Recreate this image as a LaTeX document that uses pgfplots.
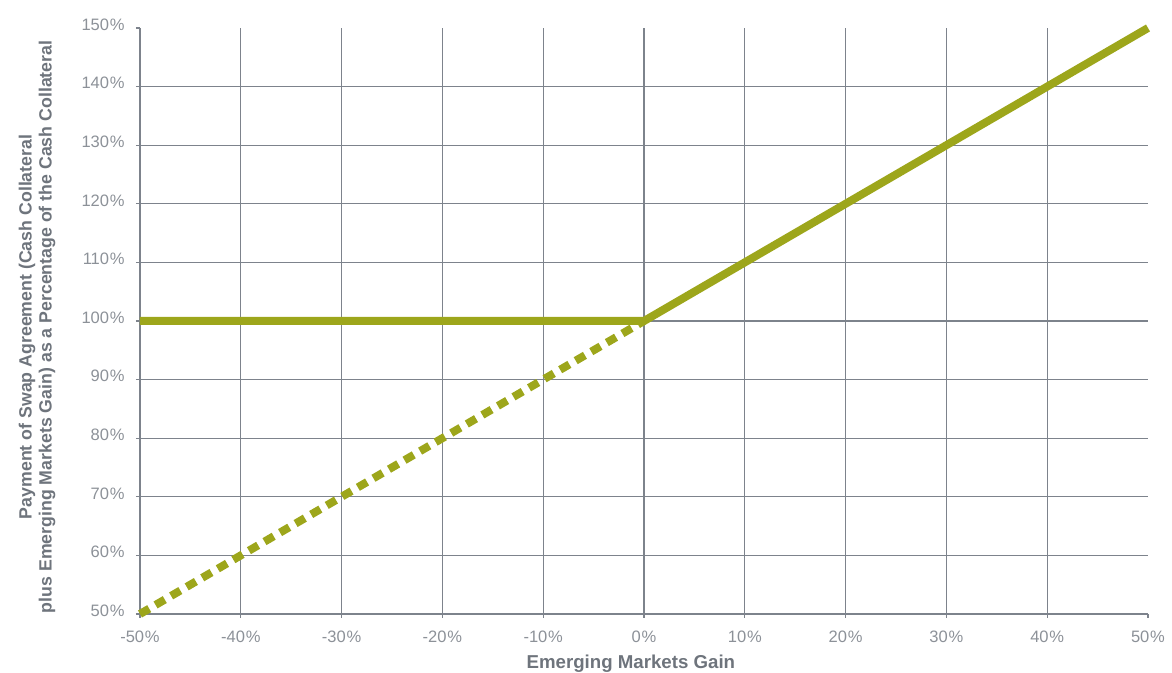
\documentclass[border=0pt]{standalone}
\usepackage{pgfplots}
\pgfplotsset{compat=1.18}
\usepackage{fontspec}
\setmainfont{Liberation Sans}

\definecolor{olive}{HTML}{9DA61B}
\definecolor{gridgray}{HTML}{7D838C}
\definecolor{ticktext}{HTML}{8C9198}
\definecolor{labeltext}{HTML}{6E747C}

\begin{document}
\begin{tikzpicture}
\begin{axis}[
  name=ax,
  scale only axis,
  width=756pt, height=439.5pt,
  xmin=-50, xmax=50, ymin=50, ymax=150,
  axis x line*=bottom, axis y line*=left,
  axis line style={gridgray, line width=0.8pt},
  xtick={-50,-40,...,50},
  ytick={50,60,...,150},
  xticklabel={\pgfmathprintnumber{\tick}\kern0.6pt\%},
  yticklabel={\pgfmathprintnumber{\tick}\kern0.6pt\%},
  /pgf/number format/assume math mode=true,
  tick align=outside,
  major tick length=3pt,
  tick style={gridgray, line width=0.8pt},
  tick label style={font=\fontsize{12.4}{14}\selectfont, text=ticktext},
  yticklabel style={xshift=-5pt, yshift=2.5pt},
  xticklabel style={yshift=-6.5pt},
  extra x ticks={-40,-30,...,40},
  extra x tick labels={},
  extra y ticks={60,70,...,140},
  extra y tick labels={},
  extra tick style={grid=major, major tick length=0pt},
  major grid style={gridgray, line width=0.8pt},
  clip=false,
]
  % payoff without the floor (dashed) and the floored payoff (solid)
  \addplot[olive, line width=6pt, dash pattern=on 8pt off 5.5pt]
    coordinates {(-50,50) (0,100)};
  \addplot[olive, line width=6pt, line join=round]
    coordinates {(-50,100) (0,100) (50,150)};

  \node[anchor=base, font=\fontsize{14}{16}\bfseries, text=labeltext]
    at (axis description cs:0.487,-0.0935) {Emerging Markets Gain};
  \node[rotate=90, align=center, font=\fontsize{13.3}{15}\bfseries, text=labeltext]
    at (axis description cs:-0.102,0.49)
    {Payment of Swap Agreement (Cash Collateral\\plus Emerging Markets Gain) as a Percentage of the Cash Collateral};
\end{axis}
\pgfresetboundingbox
\path[use as bounding box]
  ([xshift=-105pt,yshift=-44.25pt]ax.south west)
  rectangle ([xshift=774pt,yshift=460.5pt]ax.south west);
\end{tikzpicture}
\end{document}
